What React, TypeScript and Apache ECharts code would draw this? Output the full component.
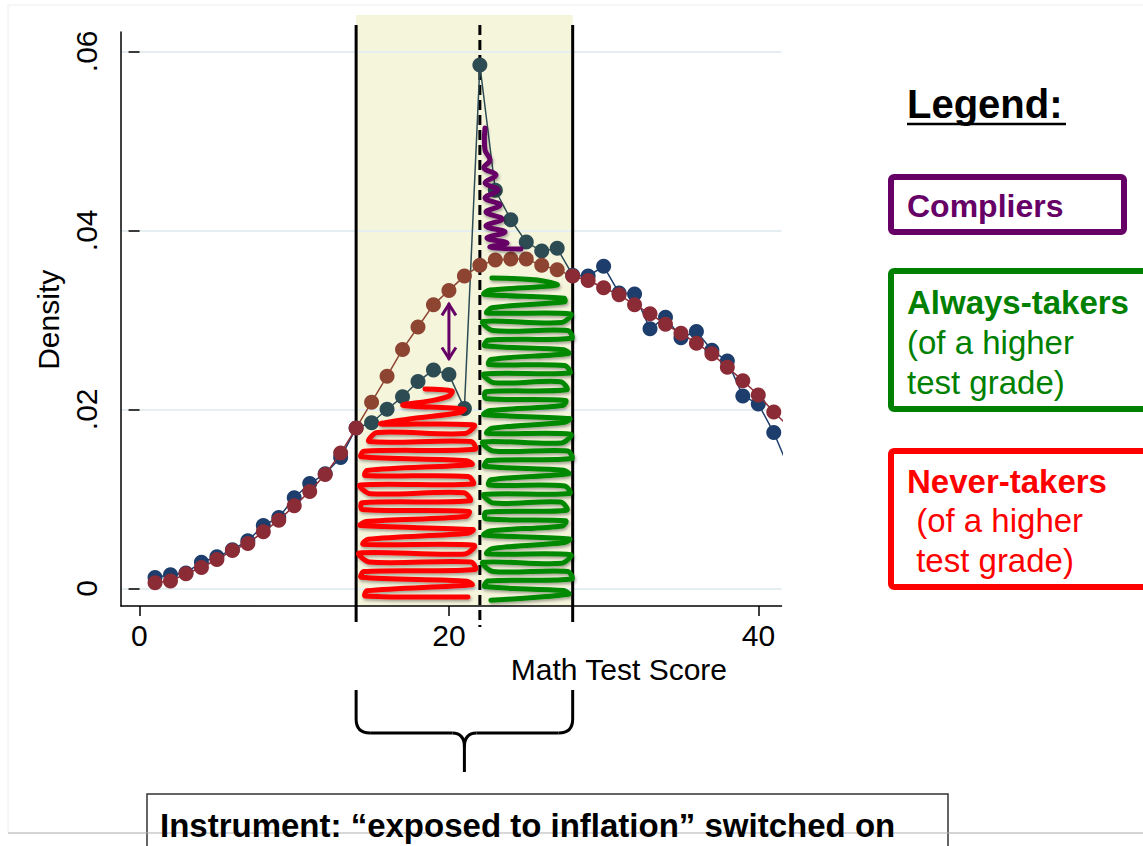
import React, { useEffect, useRef } from "react";
import * as echarts from "echarts";

// ---------- data ----------
const scores = [1, 2, 3, 4, 5, 6, 7, 8, 9, 10, 11, 12, 13, 14, 15, 16, 17, 18, 19, 20, 21, 22, 23, 24, 25, 26, 27, 28, 29, 30, 31, 32, 33, 34, 35, 36, 37, 38, 39, 40, 41, 42];
const observedDensity = [
  0.0012, 0.0015, 0.0017, 0.0029, 0.0035, 0.0043, 0.0053, 0.007, 0.0079, 0.0101,
  0.0117, 0.0128, 0.0146, 0.0179, 0.0185, 0.02, 0.0214, 0.0231, 0.0244, 0.0239,
  0.0201, 0.0585, 0.0445, 0.0412, 0.0387, 0.0377, 0.038, 0.035, 0.0349, 0.036,
  0.033, 0.0329, 0.029, 0.0303, 0.028, 0.0287, 0.0266, 0.0254, 0.0215, 0.0206,
  0.0174, 0.0133,
];
const counterfactualDensity = [
  0.0006, 0.0008, 0.0016, 0.0023, 0.0032, 0.0042, 0.005, 0.0063, 0.0076, 0.0092,
  0.0108, 0.0127, 0.0151, 0.0179, 0.0208, 0.0237, 0.0267, 0.0292, 0.0317, 0.0333,
  0.0349, 0.0361, 0.0367, 0.0368, 0.0368, 0.0361, 0.0356, 0.0349, 0.0344, 0.0336,
  0.0328, 0.0317, 0.0307, 0.0295, 0.0285, 0.0274, 0.0262, 0.0247, 0.0232, 0.0216,
  0.0197, 0.018,
];
const bandStart = 14;
const bandEnd = 28;
const cutoff = 22;
const arrowScore = 20;

const navyOut = "#1d3e6c";
const navyIn = "#2d4b53";
const maroonOut = "#8b2b36";
const maroonIn = "#8d4532";
const purple = "#660066";
const green = "#008000";
const red = "#ff0000";

const AXIS_FONT = "'Liberation Sans', Arial, sans-serif";
const SLIDE_FONT = "'Liberation Sans', Arial, sans-serif";

function scribble(
  y0: number,
  y1: number,
  step: number,
  leftAt: (y: number) => number,
  rightAt: (y: number) => number
): number[][] {
  const jl = [0, 4, -2, 6, 1, -3, 7, 2, -1, 5, 3, -2, 8, 0];
  const jr = [0, -3, 4, -1, 5, -4, 2, 6, -2, 3, -1, 4, -5, 1];
  const jy = [0, 1.5, -1, 2, 0.5, -1.5, 1, 0, -1, 2, 0.5, -0.5, 1.5, 0];
  const pts: number[][] = [];
  let k = 0;
  for (let y = y0; y <= y1; y += step, k++) {
    const l = leftAt(y) + jl[k % jl.length];
    const r = rightAt(y) + jr[k % jr.length];
    const d = jy[k % jy.length];
    if (k % 2 === 0) {
      pts.push([l, y + d], [r, y + 2 - d]);
    } else {
      pts.push([r, y - d], [l, y + 2 + d]);
    }
  }
  return pts;
}

export default function App() {
  const ref = useRef<HTMLDivElement>(null);

  useEffect(() => {
    const chart = echarts.init(ref.current!, null, { renderer: "svg" });
    const axisLabelStyle = { color: "#000", fontSize: 30, fontFamily: AXIS_FONT };
    chart.setOption({
      animation: false,
      backgroundColor: "#ffffff",
      grid: [
        { left: 121, right: 361.5, top: 32, bottom: 240 },
        { left: 121, right: 361.5, top: 51.3, bottom: 257.7 },
        { left: 139.3, right: 384.5, top: 51.3, bottom: 240 },
      ],
      xAxis: [
        {
          gridIndex: 0, type: "value", min: -1.2, max: 41.5,
          axisLine: { show: true, onZero: false, lineStyle: { color: "#000", width: 1.5 } },
          axisTick: { show: false }, axisLabel: { show: false }, splitLine: { show: false },
        },
        { gridIndex: 1, type: "value", min: -1.2, max: 41.5, show: false },
        {
          gridIndex: 2, type: "value", min: 0, max: 40, interval: 20,
          axisLine: { show: false },
          axisTick: { show: true, length: 10, lineStyle: { color: "#000", width: 1.5 } },
          axisLabel: { ...axisLabelStyle, margin: 14 },
          splitLine: { show: false },
          name: "Math Test Score", nameLocation: "middle", nameGap: 46,
          nameTextStyle: { ...axisLabelStyle, padding: [0, 0, 0, 340] },
        },
      ],
      yAxis: [
        {
          gridIndex: 0, type: "value", min: -0.002, max: 0.0622,
          axisLine: { show: true, onZero: false, lineStyle: { color: "#000", width: 1.5 } },
          axisTick: { show: false }, axisLabel: { show: false }, splitLine: { show: false },
        },
        {
          gridIndex: 1, type: "value", min: 0, max: 0.06, interval: 0.02,
          axisLine: { show: false },
          axisTick: { show: true, length: 11, lineStyle: { color: "#000", width: 1.5 } },
          axisLabel: {
            ...axisLabelStyle, rotate: 90, margin: 20,
            formatter: (v: number) => (Math.abs(v) < 1e-9 ? "0" : v.toFixed(2).replace(/^0/, "")),
          },
          splitLine: { show: true, lineStyle: { color: "#e5eef0", width: 2 } },
          name: "Density", nameLocation: "middle", nameGap: 54,
          nameTextStyle: { ...axisLabelStyle },
        },
        { gridIndex: 2, type: "value", min: 0, max: 0.06, show: false },
      ],
      visualMap: [
        {
          type: "piecewise", show: false, seriesIndex: 0, dimension: 0,
          pieces: [
            { lte: bandStart, color: navyOut },
            { gt: bandStart, lt: bandEnd, color: navyIn },
            { gte: bandEnd, color: navyOut },
          ],
        },
        {
          type: "piecewise", show: false, seriesIndex: 1, dimension: 0,
          pieces: [
            { lte: bandStart, color: maroonOut },
            { gt: bandStart, lt: bandEnd, color: maroonIn },
            { gte: bandEnd, color: maroonOut },
          ],
        },
      ],
      series: [
        {
          name: "Observed", type: "line", xAxisIndex: 0, yAxisIndex: 0,
          data: scores.map((s, i) => [s, observedDensity[i]]),
          symbol: "circle", symbolSize: 15, lineStyle: { width: 1.5 }, z: 3,
        },
        {
          name: "Counterfactual", type: "line", xAxisIndex: 0, yAxisIndex: 0,
          data: scores.map((s, i) => [s, counterfactualDensity[i]]),
          symbol: "circle", symbolSize: 15, lineStyle: { width: 1.5 }, z: 4,
        },
      ],
    });

    const px = (x: number) => chart.convertToPixel({ gridIndex: 0 }, [x, 0])[0];
    const py = (y: number) => chart.convertToPixel({ gridIndex: 0 }, [0, y])[1];

    const xL = px(bandStart);
    const xR = px(bandEnd);
    const xC = px(cutoff);
    const xM = px((bandStart + bandEnd) / 2);
    const yAxisBottom = py(-0.002);
    const ai = scores.indexOf(arrowScore);
    const xA = px(arrowScore);
    const arrowTop = py(counterfactualDensity[ai]) + 13;
    const arrowBot = py(observedDensity[ai]) - 15;

    const scribbleStyle = (c: string) => ({
      stroke: c, lineWidth: 5, fill: "none", lineJoin: "round", lineCap: "round",
      shadowBlur: 3, shadowColor: "rgba(0,0,0,0.35)", shadowOffsetX: 1, shadowOffsetY: 2,
    });

    const redPts = scribble(
      389, 596, 8.6,
      (y) => (y < 398 ? 425 : y < 418 ? 405 : y < 436 ? 380 : xL + 6),
      (y) => (y < 398 ? 452 : y < 418 ? 460 : px(21.3))
    );
    const greenPts = scribble(
      278, 598, 8.6,
      (y) => (y < 286 ? xC + 12 : xC + 6),
      (y) => (y < 286 ? 537 : y < 298 ? 560 : xR - 7)
    );
    const purplePts = [
      [485, 128], [485, 150], [490, 160], [484, 168], [496, 175], [485, 183], [498, 190],
      [485, 198], [500, 205], [486, 212], [502, 219], [486, 226], [505, 232], [487, 238],
      [507, 243], [490, 247], [521, 249],
    ];

    const lineStyleBlack = { stroke: "#000", lineWidth: 3 };
    const brace = { stroke: "#000", lineWidth: 3, fill: "none" };
    const yb0 = 690, ybH = 733, ybS = 772;

    const textEl = (text: string, x: number, y: number, font: string, fill: string) => ({
      type: "text", z: 30,
      style: { text, x, y, font, fill, textAlign: "left", textVerticalAlign: "middle", align: "left", verticalAlign: "middle" },
    });

    chart.setOption({
      graphic: {
        elements: [
          // slide border
          { type: "rect", z: -20, shape: { x: 8, y: 5, width: 1200, height: 828 }, style: { fill: "none", stroke: "#eeeeee", lineWidth: 1 } },
          // band
          { type: "rect", z: -10, shape: { x: xL, y: 15, width: xR - xL, height: yAxisBottom - 15 }, style: { fill: "#f5f5dc" } },
          // vertical lines
          { type: "line", z: 1, shape: { x1: xL, y1: 25, x2: xL, y2: 622 }, style: lineStyleBlack },
          { type: "line", z: 1, shape: { x1: xR, y1: 25, x2: xR, y2: 622 }, style: lineStyleBlack },
          { type: "line", z: 1, shape: { x1: xC, y1: 25, x2: xC, y2: 627 }, style: { ...lineStyleBlack, lineDash: [10, 5] } },
          // scribbles
          { type: "polyline", z: 20, shape: { points: redPts, smooth: 0.3 }, style: scribbleStyle(red) },
          { type: "polyline", z: 20, shape: { points: greenPts, smooth: 0.3 }, style: scribbleStyle("#008800") },
          { type: "polyline", z: 20, shape: { points: purplePts, smooth: 0.4 }, style: { ...scribbleStyle(purple), lineWidth: 5 } },
          // double arrow
          { type: "line", z: 21, shape: { x1: xA, y1: arrowTop, x2: xA, y2: arrowBot }, style: { stroke: purple, lineWidth: 3 } },
          { type: "polyline", z: 21, shape: { points: [[xA - 7, arrowTop + 12], [xA, arrowTop + 1], [xA + 7, arrowTop + 12]] }, style: { stroke: purple, lineWidth: 3, fill: "none" } },
          { type: "polyline", z: 21, shape: { points: [[xA - 7, arrowBot - 12], [xA, arrowBot - 1], [xA + 7, arrowBot - 12]] }, style: { stroke: purple, lineWidth: 3, fill: "none" } },
          // brace
          { type: "line", shape: { x1: xL, y1: yb0, x2: xL, y2: ybH - 14 }, style: brace },
          { type: "bezierCurve", shape: { x1: xL, y1: ybH - 14, cpx1: xL, cpy1: ybH, x2: xL + 14, y2: ybH }, style: brace },
          { type: "line", shape: { x1: xL + 14, y1: ybH, x2: xM - 12, y2: ybH }, style: brace },
          { type: "bezierCurve", shape: { x1: xM - 12, y1: ybH, cpx1: xM, cpy1: ybH, x2: xM, y2: ybH + 14 }, style: brace },
          { type: "bezierCurve", shape: { x1: xM + 12, y1: ybH, cpx1: xM, cpy1: ybH, x2: xM, y2: ybH + 14 }, style: brace },
          { type: "line", shape: { x1: xM, y1: ybH + 14, x2: xM, y2: ybS }, style: brace },
          { type: "line", shape: { x1: xM + 12, y1: ybH, x2: xR - 14, y2: ybH }, style: brace },
          { type: "bezierCurve", shape: { x1: xR - 14, y1: ybH, cpx1: xR, cpy1: ybH, x2: xR, y2: ybH - 14 }, style: brace },
          { type: "line", shape: { x1: xR, y1: ybH - 14, x2: xR, y2: yb0 }, style: brace },
          // instrument box
          { type: "rect", z: 25, shape: { x: 147, y: 794, width: 801, height: 80 }, style: { fill: "#fff", stroke: "#333", lineWidth: 1.5 } },
          { type: "line", z: 26, shape: { x1: 8, y1: 833, x2: 1143, y2: 833 }, style: { stroke: "#b0b0b0", lineWidth: 1 } },
          textEl("Instrument: \u201cexposed to inflation\u201d switched on", 160, 825, `bold 33px ${SLIDE_FONT}`, "#000"),
          // legend
          textEl("Legend:", 907, 104, `bold 40px ${SLIDE_FONT}`, "#000"),
          { type: "line", z: 30, shape: { x1: 907, y1: 124, x2: 1066, y2: 124 }, style: { stroke: "#000", lineWidth: 2.5 } },
          { type: "rect", z: 25, shape: { x: 891, y: 177, width: 233, height: 55, r: 3 }, style: { fill: "#fff", stroke: purple, lineWidth: 6 } },
          textEl("Compliers", 907, 206, `bold 32px ${SLIDE_FONT}`, purple),
          { type: "rect", z: 25, shape: { x: 891, y: 271, width: 290, height: 138, r: 3 }, style: { fill: "#fff", stroke: green, lineWidth: 6 } },
          textEl("Always-takers", 907, 302, `bold 33px ${SLIDE_FONT}`, green),
          textEl("(of a higher", 907, 342, `33px ${SLIDE_FONT}`, green),
          textEl("test grade)", 907, 382, `33px ${SLIDE_FONT}`, green),
          { type: "rect", z: 25, shape: { x: 891, y: 451, width: 290, height: 136, r: 3 }, style: { fill: "#fff", stroke: red, lineWidth: 6 } },
          textEl("Never-takers", 907, 481, `bold 33px ${SLIDE_FONT}`, red),
          textEl(" (of a higher", 907, 520, `33px ${SLIDE_FONT}`, red),
          textEl(" test grade)", 907, 560, `33px ${SLIDE_FONT}`, red),
        ],
      },
    });

    return () => chart.dispose();
  }, []);

  return (
    <div
      ref={ref}
      style={{ position: "fixed", left: 0, top: 0, width: 1143, height: 846, background: "#fff" }}
    />
  );
}
